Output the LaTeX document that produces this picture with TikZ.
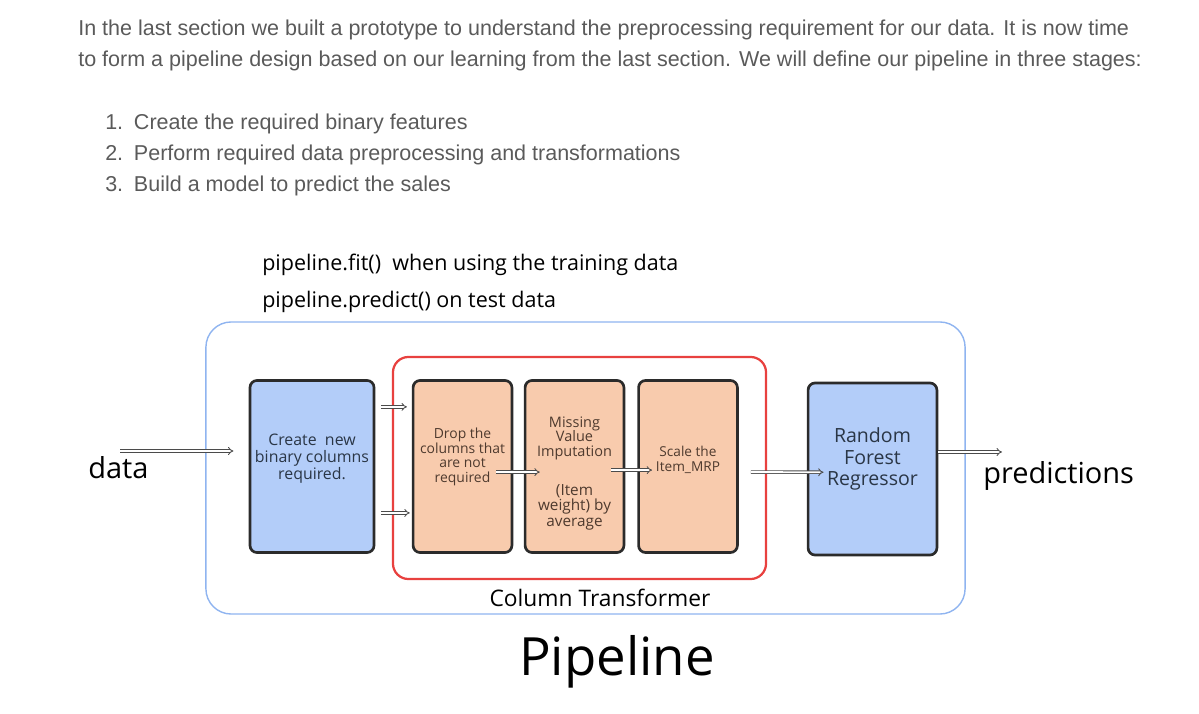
\documentclass[tikz,border=0pt]{standalone}
\usepackage{fontspec}
\setmainfont{Open Sans}
\newfontfamily\notefont{Liberation Sans}
\usetikzlibrary{arrows.meta,positioning}
\definecolor{notegray}{HTML}{5A5A5A}
\definecolor{pipeblue}{HTML}{8FB4F0}
\definecolor{ctred}{HTML}{E8413F}
\definecolor{stepblue}{HTML}{B3CDF9}
\definecolor{steporange}{HTML}{F8CBAD}
\definecolor{edgegray}{HTML}{2B2B2B}
\definecolor{inkblue}{HTML}{2A3646}
\definecolor{inkbrown}{HTML}{4E3A2E}

\begin{document}
\begin{tikzpicture}[x=0.025cm, y=-0.025cm, >=Implies]
\tikzstyle{block} = [draw=edgegray, line width=1.9pt, rounded corners=5pt, rectangle, minimum height=4.3cm]
\tikzstyle{blueblock} = [block, fill=stepblue, minimum width=3.1cm]
\tikzstyle{orangeblock} = [block, fill=steporange, minimum width=2.47cm]
\tikzstyle{frame} = [rectangle, inner sep=0pt]
\tikzstyle{note} = [anchor=base west, inner sep=0pt, text=notegray, font=\notefont\fontsize{15.3}{18}\selectfont]
\tikzstyle{boxtext} = [align=center, inner sep=0pt]
\tikzstyle{dbl} = [double=white, double distance=1.3pt, line width=0.6pt, draw=edgegray!85, ->]
\tikzstyle{input} = [coordinate]
\tikzstyle{output} = [coordinate]
\useasboundingbox (0,0) rectangle (1199,714);

% text above the picture
\node[note] (intro1) at (78,36) {In the last section we built a prototype to understand the preprocessing requirement for our data. It is now time};
\node[note] (intro2) at (78,67) {to form a pipeline design based on our learning from the last section. We will define our pipeline in three stages:};
\node[note] (stage1) at (105,130) {1.\hspace{0.5em}Create the required binary features};
\node[note] (stage2) at (105,161) {2.\hspace{0.5em}Perform required data preprocessing and transformations};
\node[note] (stage3) at (105,192) {3.\hspace{0.5em}Build a model to predict the sales};

\node[anchor=base west, inner sep=0pt, font=\fontsize{15.3}{18}\selectfont] (fitline) at (262,271) {pipeline.fit()\ \ when using the training data};
\node[anchor=base west, inner sep=0pt, font=\fontsize{15.3}{18}\selectfont] (predline) at (262,308) {pipeline.predict() on test data};

% the two frames
\node[frame, draw=pipeblue, line width=1pt, rounded corners=18pt, minimum width=18.975cm, minimum height=7.3cm] (pipe) at (585.5,468) {};
\node[frame, draw=ctred, line width=1.6pt, rounded corners=11pt, minimum width=9.325cm, minimum height=5.55cm] (coltrans) at (579.5,468) {};

% the steps
\node[blueblock] (create) at (312,466.5) {};
\node[orangeblock] (drop) at (462.5,466.5) {};
\node[orangeblock] (impute) at (574.5,466.5) {};
\node[orangeblock] (scale) at (688,466.5) {};
\node[blueblock, minimum width=3.22cm] (forest) at (872.5,469) {};

\node[boxtext, text=inkblue, font=\fontsize{11.3}{12.1}\selectfont] at (312,459) {Create\ \ new\\binary columns\\required.};
\node[boxtext, text=inkbrown, font=\fontsize{9.9}{10.3}\selectfont] at (462.5,457) {Drop the\\columns that\\are not\\required};
\node[boxtext, text=inkbrown, font=\fontsize{10.3}{10.3}\selectfont] at (574.5,438) {Missing\\Value\\Imputation};
\node[boxtext, text=inkbrown, font=\fontsize{10.9}{11}\selectfont] at (574.5,507) {(Item\\weight) by\\average};
\node[boxtext, text=inkbrown, font=\fontsize{9.7}{10.2}\selectfont] at (688,460) {Scale the\\Item\_MRP};
\node[boxtext, text=inkblue, font=\fontsize{13.9}{15}\selectfont] at (872.5,459) {Random\\Forest\\Regressor};

\node[anchor=base west, inner sep=0pt, font=\fontsize{20.6}{24}\selectfont] (data) at (88,479) {data};
\node[anchor=base west, inner sep=0pt, font=\fontsize{20.6}{24}\selectfont] (predictions) at (983,484) {predictions};
\node[anchor=base, inner sep=0pt, font=\fontsize{16.2}{19}\selectfont] (ctlabel) at (600,607) {Column Transformer};
\node[anchor=base, inner sep=0pt, font=\fontsize{37.5}{42}\selectfont] (pipelabel) at (617,675) {Pipeline};

\node[input] (datain) at (120,451) {};
\node[output] (predout) at (1002,452) {};

% connectors
\draw[dbl, shorten >=0.38cm] (datain) -- (create.west |- datain);
\draw[dbl, shorten <=0.15cm, shorten >=0.12cm] ([yshift=1.49cm]create.east) -- ([yshift=1.49cm]drop.west);
\draw[dbl, shorten <=0.15cm, shorten >=0.05cm] ([yshift=-1.16cm]create.east) -- ([yshift=-1.16cm]drop.west);
\draw[dbl, shorten <=-0.42cm, shorten >=-0.4cm] ([yshift=-0.14cm]drop.east) -- ([yshift=-0.14cm]impute.west);
\draw[dbl, shorten <=-0.35cm, shorten >=-0.37cm] ([yshift=-0.09cm]impute.east) -- ([yshift=-0.09cm]scale.west);
\draw[dbl, shorten <=0.3cm, shorten >=-0.42cm] ([yshift=-0.14cm]scale.east) -- ([yshift=-0.08cm]forest.west);
\draw[dbl] (forest.east |- predout) -- (predout);

\end{tikzpicture}
\end{document}
